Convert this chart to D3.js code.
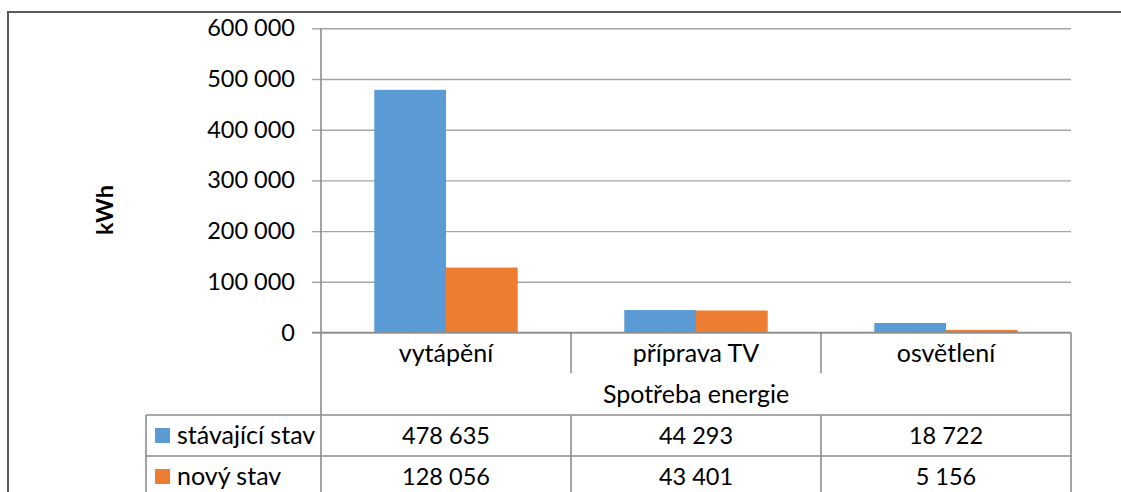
<!DOCTYPE html>
<html>
<head>
<meta charset="utf-8">
<script src="https://cdn.jsdelivr.net/npm/d3@7"></script>
<style>
  html, body { margin: 0; padding: 0; background: #fff; }
  svg { display: block; }
  text { font-family: Lato, "Open Sans", sans-serif; fill: #000; }
</style>
</head>
<body>
<svg id="chart" width="1121" height="492"></svg>
<script>
// Energy consumption, current vs. new state (kWh)
const categories = ["vytápění", "příprava TV", "osvětlení"];
const seriesNames = ["stávající stav", "nový stav"];
const currentState = [478635, 44293, 18722];
const newState = [128056, 43401, 5156];
const seriesColors = ["#5B9BD5", "#ED7D31"];
const yTicks = [0, 100000, 200000, 300000, 400000, 500000, 600000];
const yTitle = "kWh";
const groupTitle = "Spotřeba energie";

const seriesValues = [currentState, newState];

const locale = d3.formatLocale({ decimal: ",", thousands: " ", grouping: [3], currency: ["", " Kč"] });
const fmt = locale.format(",d");

const svg = d3.select("#chart");
const W = 1121, H = 492;
const numSize = 23.5, wordSize = 25;

// plot geometry
const plotLeft = 321, plotRight = 1071, plotTop = 28.3, zero = 332.5;
const tableLeft = 146;
const rowCat = [zero, 373];
const rowGroup = [373, 415];
const rowData = [[415, 456], [456, 497]];

const x = d3.scaleBand().domain(categories).range([plotLeft, plotRight]);
const xs = d3.scaleBand().domain(seriesNames).range([0, x.bandwidth()]).paddingOuter(0.743);
const y = d3.scaleLinear().domain([0, 600000]).range([zero, plotTop]);

const gridColor = "#A5A5A5";
const lineColor = "#8C8C8C";

// outer frame (top and left edge)
svg.append("path")
  .attr("d", `M8,${H} L8,12 L${W},12`)
  .attr("fill", "none").attr("stroke", "#5a5a5a").attr("stroke-width", 2);

// horizontal gridlines
svg.append("g")
  .attr("transform", `translate(${plotLeft},0)`)
  .call(d3.axisLeft(y).tickValues(yTicks).tickSize(-(plotRight - plotLeft)).tickFormat(""))
  .call(g => g.select(".domain").remove())
  .call(g => g.selectAll(".tick line").attr("stroke", gridColor).attr("stroke-width", 1.4));

// bars
const groups = svg.append("g").selectAll("g")
  .data(seriesNames)
  .join("g")
  .attr("fill", (d, i) => seriesColors[i]);

groups.selectAll("rect")
  .data((s, si) => categories.map((c, ci) => ({ c, s, v: seriesValues[si][ci] })))
  .join("rect")
  .attr("x", d => x(d.c) + xs(d.s))
  .attr("width", xs.bandwidth())
  .attr("y", d => y(d.v))
  .attr("height", d => zero - y(d.v));

// value axis with labels
svg.append("g")
  .attr("transform", `translate(${plotLeft},0)`)
  .call(d3.axisLeft(y).tickValues(yTicks).tickSize(9).tickPadding(17).tickFormat(fmt))
  .call(g => g.select(".domain").remove())
  .call(g => g.selectAll(".tick line").attr("stroke", gridColor).attr("stroke-width", 1.4))
  .call(g => g.selectAll(".tick text").attr("font-size", numSize).attr("font-family", "Lato").attr("fill", "#000"));

// vertical axis line
svg.append("line")
  .attr("x1", plotLeft).attr("x2", plotLeft).attr("y1", plotTop).attr("y2", H)
  .attr("stroke", lineColor).attr("stroke-width", 1.6);

// y-axis title
svg.append("text")
  .attr("transform", `translate(113,210) rotate(-90)`)
  .attr("text-anchor", "middle")
  .attr("font-size", 23.5).attr("font-weight", "bold")
  .text(yTitle);

// data table lines
const table = svg.append("g").attr("stroke", lineColor).attr("stroke-width", 1.6).attr("fill", "none");
// category row separators
categories.slice(1).forEach(c => {
  table.append("line").attr("x1", x(c)).attr("x2", x(c)).attr("y1", rowCat[0]).attr("y2", rowCat[1]);
});
// right edge
table.append("line").attr("x1", plotRight).attr("x2", plotRight).attr("y1", rowCat[0]).attr("y2", H);
// horizontal rules
table.append("line").attr("x1", 312).attr("x2", plotRight).attr("y1", zero).attr("y2", zero);
[rowData[0][0], rowData[1][0]].forEach(yy => {
  table.append("line").attr("x1", tableLeft).attr("x2", plotRight).attr("y1", yy).attr("y2", yy);
});
// column separators in data rows
categories.slice(1).forEach(c => {
  table.append("line").attr("x1", x(c)).attr("x2", x(c)).attr("y1", rowData[0][0]).attr("y2", H);
});
// legend column left edge
table.append("line").attr("x1", tableLeft).attr("x2", tableLeft).attr("y1", rowData[0][0]).attr("y2", H);

// category labels
svg.append("g")
  .attr("transform", `translate(0,${zero})`)
  .call(d3.axisBottom(x).tickSize(0).tickPadding(0))
  .call(g => g.select(".domain").remove())
  .call(g => g.selectAll(".tick text")
    .attr("y", (rowCat[1] - rowCat[0]) / 2).attr("dy", "0.35em")
    .attr("font-size", wordSize).attr("font-family", "Lato").attr("fill", "#000"));

// group title
svg.append("text")
  .attr("x", (plotLeft + plotRight) / 2).attr("y", (rowGroup[0] + rowGroup[1]) / 2)
  .attr("dy", "0.35em").attr("text-anchor", "middle")
  .attr("font-size", wordSize)
  .text(groupTitle);

// data rows
seriesNames.forEach((s, si) => {
  const [r0, r1] = rowData[si];
  const cy = (r0 + r1) / 2;
  svg.append("rect")
    .attr("x", 155).attr("y", cy - 7.5).attr("width", 15).attr("height", 15)
    .attr("fill", seriesColors[si]);
  svg.append("text")
    .attr("x", 177).attr("y", cy).attr("dy", "0.35em")
    .attr("font-size", wordSize)
    .text(s);
  svg.append("g").selectAll("text")
    .data(categories)
    .join("text")
    .attr("x", c => x(c) + x.bandwidth() / 2)
    .attr("y", cy).attr("dy", "0.35em")
    .attr("text-anchor", "middle")
    .attr("font-size", numSize)
    .text((c, ci) => fmt(seriesValues[si][ci]));
});
</script>
</body>
</html>
